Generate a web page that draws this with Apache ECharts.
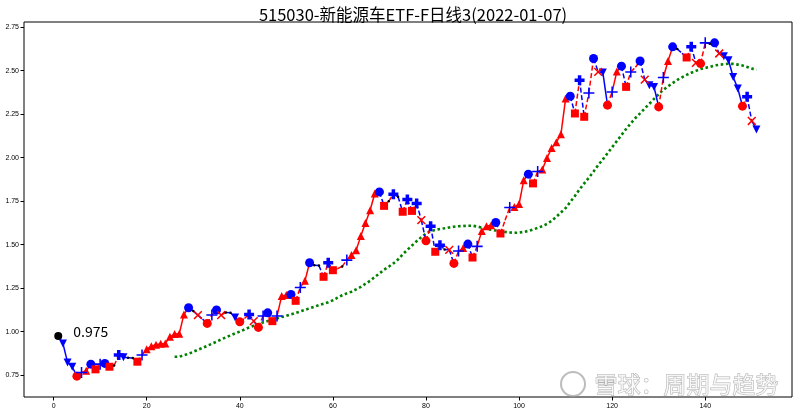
<!DOCTYPE html>
<html><head><meta charset="utf-8">
<script src="https://cdn.jsdelivr.net/npm/echarts@6/dist/echarts.min.js"></script>
<style>html,body{margin:0;padding:0;background:#fff}#c{width:800px;height:412px}</style>
</head><body><div id="c"></div><script>
const chartTitle = '515030-新能源车ETF-F日线3(2022-01-07)';
const watermark = '雪球：周期与趋势';
// daily values, day 1..151
const closeValues = [
 0.975,0.932,0.823,0.798,0.744,0.765,0.775,0.813,0.783,0.813,
 0.817,0.798,0.805,0.865,0.852,0.850,0.848,0.827,0.865,0.899,
 0.916,0.925,0.930,0.932,0.970,0.986,0.988,1.099,1.137,1.118,
 1.095,1.072,1.047,1.095,1.124,1.095,1.110,1.108,1.081,1.056,
 1.075,1.099,1.060,1.024,1.090,1.108,1.060,1.090,1.204,1.210,
 1.213,1.177,1.254,1.292,1.396,1.382,1.380,1.315,1.396,1.353,
 1.362,1.375,1.411,1.440,1.468,1.549,1.625,1.698,1.794,1.803,
 1.723,1.750,1.790,1.775,1.689,1.760,1.694,1.737,1.641,1.522,
 1.606,1.459,1.497,1.472,1.470,1.392,1.463,1.480,1.503,1.426,
 1.490,1.579,1.606,1.612,1.627,1.564,1.640,1.714,1.716,1.733,
 1.870,1.905,1.852,1.920,1.932,1.998,2.055,2.088,2.135,2.340,
 2.353,2.254,2.445,2.235,2.372,2.570,2.493,2.490,2.302,2.378,
 2.495,2.526,2.407,2.493,2.520,2.556,2.449,2.417,2.407,2.292,
 2.461,2.556,2.637,2.625,2.600,2.576,2.637,2.545,2.541,2.660,
 2.655,2.660,2.599,2.583,2.560,2.464,2.398,2.296,2.350,2.211,
 2.162];
// signal kind per day: k start, v down, ^ up, o peak, O trough, s sell-box, + buy, x sell, P strong, . dot, - none
const signalMarks = [
 'k','v','v','v','O','+','^','o','s','+',
 'o','s','.','P','v','.','.','s','+','^',
 '^','^','^','^','^','^','^','^','o','.',
 'x','-','O','+','o','x','.','.','v','O',
 '-','P','x','O','+','o','s','+','^','^',
 'o','s','+','^','o','.','.','s','P','s',
 '-','.','+','^','^','^','^','^','^','o',
 's','.','P','.','s','P','s','P','x','O',
 'P','s','P','.','x','O','+','^','o','s',
 '+','^','^','^','o','s','-','+','^','^',
 '^','o','s','+','^','^','^','^','^','^',
 'o','s','P','s','+','o','x','v','O','+',
 '^','o','s','+','-','o','x','v','v','O',
 '+','^','o','.','-','s','P','x','O','+',
 '.','o','x','v','v','v','v','O','P','x',
 'v'];
const maStartDay = 26;
const maValues = [
 0.855,0.855,0.865,0.872,0.884,0.896,0.906,0.918,0.930,0.942,
 0.955,0.967,0.978,0.990,1.000,1.012,1.024,1.034,1.044,1.053,
 1.061,1.068,1.076,1.084,1.091,1.099,1.107,1.116,1.125,1.134,
 1.143,1.152,1.160,1.169,1.180,1.195,1.209,1.220,1.229,1.243,
 1.257,1.275,1.292,1.314,1.334,1.356,1.373,1.392,1.415,1.444,
 1.470,1.495,1.520,1.543,1.563,1.578,1.584,1.590,1.594,1.599,
 1.603,1.606,1.607,1.609,1.609,1.604,1.598,1.592,1.586,1.581,
 1.577,1.573,1.570,1.568,1.569,1.573,1.579,1.587,1.596,1.606,
 1.619,1.637,1.660,1.685,1.710,1.745,1.780,1.818,1.852,1.885,
 1.920,1.957,1.990,2.025,2.060,2.095,2.130,2.165,2.197,2.228,
 2.255,2.283,2.310,2.338,2.365,2.390,2.410,2.429,2.447,2.462,
 2.476,2.488,2.499,2.510,2.516,2.522,2.530,2.534,2.537,2.540,
 2.539,2.535,2.530,2.521,2.512,2.505];
const xTicks = [0,20,40,60,80,100,120,140];
const yTicks = [0.75,1.00,1.25,1.50,1.75,2.00,2.25,2.50,2.75];

const RED = '#ff0000', BLUE = '#0000ff';
const days = closeValues.map((v, i) => i + 1);
const pts = closeValues.map((v, i) => [days[i], v]);

// segments: style 0 red solid, 1 red dashed, 2 blue solid, 3 blue dashed
const trendKinds = ['^', 'v', 'k'];
const segs = [];
for (let i = 0; i < pts.length - 1; i++) {
  const a = signalMarks[i], b = signalMarks[i + 1];
  const up = closeValues[i + 1] > closeValues[i];
  const solid = (b === '^' || b === 'v') || (trendKinds.includes(a) && (b === 'o' || b === 'O'));
  const style = (up ? 0 : 2) + (solid ? 0 : 1);
  segs.push([pts[i][0], pts[i][1], pts[i + 1][0], pts[i + 1][1], style]);
}

const thinPlus = 'path://M0,8.6 L20,8.6 L20,11.4 L0,11.4 Z M8.6,0 L11.4,0 L11.4,20 L8.6,20 Z';
const fatPlus = 'path://M6.5,0 L13.5,0 L13.5,6.5 L20,6.5 L20,13.5 L13.5,13.5 L13.5,20 L6.5,20 L6.5,13.5 L0,13.5 L0,6.5 L6.5,6.5 Z';
const markerStyles = {
  'k': {symbol: 'circle', size: 8, color: '#000'},
  'v': {symbol: 'triangle', size: 8, color: BLUE, rotate: 180},
  '^': {symbol: 'triangle', size: 8, color: RED},
  'o': {symbol: 'circle', size: 9, color: BLUE},
  'O': {symbol: 'circle', size: 9, color: RED},
  's': {symbol: 'rect', size: 8, color: RED},
  '+': {symbol: thinPlus, size: 11, color: BLUE},
  'x': {symbol: thinPlus, size: 11, color: RED, rotate: 45},
  'P': {symbol: fatPlus, size: 10, color: BLUE},
  '.': {symbol: 'circle', size: 2.5, color: '#000'}
};

const series = [];
series.push({
  type: 'line', name: 'ma', data: maValues.map((v, i) => [maStartDay + i, v]),
  showSymbol: false, silent: true, z: 1,
  lineStyle: {color: '#008000', width: 2.6, type: [2.6, 2.6], cap: 'butt'}
});
series.push({
  type: 'custom', name: 'path', data: segs, z: 2, silent: true,
  encode: {x: [0, 2], y: [1, 3]},
  renderItem: function (params, api) {
    const a = api.coord([api.value(0), api.value(1)]);
    const b = api.coord([api.value(2), api.value(3)]);
    const st = api.value(4);
    const red = st < 2, dashed = st % 2 === 1;
    return {type: 'line', shape: {x1: a[0], y1: a[1], x2: b[0], y2: b[1]},
      style: {stroke: red ? RED : BLUE, lineWidth: 1.5, lineDash: dashed ? [5, 2.5] : null}};
  }
});
Object.keys(markerStyles).forEach(k => {
  const m = markerStyles[k];
  const data = [];
  pts.forEach((p, i) => { if (signalMarks[i] === k) data.push(p); });
  if (!data.length) return;
  const s = {
    type: 'scatter', name: k, data: data, z: 3, silent: true,
    symbol: m.symbol, symbolSize: m.size, symbolRotate: m.rotate || 0,
    itemStyle: {color: m.color, opacity: 1}
  };
  if (k === 'k') {
    s.label = {show: true, position: 'right', distance: 11, offset: [0, -4],
      formatter: p => p.value[1].toFixed(3), color: '#000', fontSize: 14,
      fontFamily: "'Liberation Sans Narrow','Noto Sans CJK SC',sans-serif"};
  }
  series.push(s);
});

const chart = echarts.init(document.getElementById('c'), null, {renderer: 'canvas'});
chart.setOption({
  animation: false,
  backgroundColor: '#fff',
  title: {text: chartTitle, left: 408, textAlign: 'center', top: 1,
    textStyle: {fontSize: 16.5, fontWeight: 'normal', color: '#000',
      fontFamily: "'Liberation Sans Narrow','Noto Sans CJK SC',sans-serif"}},
  grid: {left: 24, right: 8, top: 22, bottom: 15, show: true, borderColor: '#000', borderWidth: 1, backgroundColor: 'transparent'},
  xAxis: {type: 'value', min: -6.36, max: 158.64, splitLine: {show: false},
    axisLine: {show: false, onZero: false},
    axisTick: {show: true, length: 3.5, lineStyle: {color: '#000'}, customValues: xTicks},
    axisLabel: {show: true, fontSize: 7, color: '#000', margin: 6, customValues: xTicks,
      fontFamily: "'Liberation Sans Narrow',sans-serif"}},
  yAxis: {type: 'value', min: 0.624, max: 2.78, splitLine: {show: false},
    axisLine: {show: false, onZero: false},
    axisTick: {show: true, length: 3.5, lineStyle: {color: '#000'}, customValues: yTicks},
    axisLabel: {show: true, fontSize: 7, color: '#000', margin: 5, customValues: yTicks,
      formatter: v => v.toFixed(2), fontFamily: "'Liberation Sans Narrow',sans-serif"}},
  graphic: [
    {type: 'circle', left: 560, top: 371, shape: {r: 12}, silent: true, z: 10,
      style: {fill: 'rgba(255,255,255,0.6)', stroke: 'rgba(160,160,160,0.7)', lineWidth: 2}},
    {type: 'text', left: 594, top: 372, silent: true, z: 10,
      style: {text: watermark, fontSize: 23, fontFamily: "'Noto Sans CJK SC',sans-serif",
        fill: 'rgba(255,255,255,0.75)', stroke: 'rgba(150,150,150,0.75)', lineWidth: 1}}
  ],
  series: series
});
</script></body></html>
